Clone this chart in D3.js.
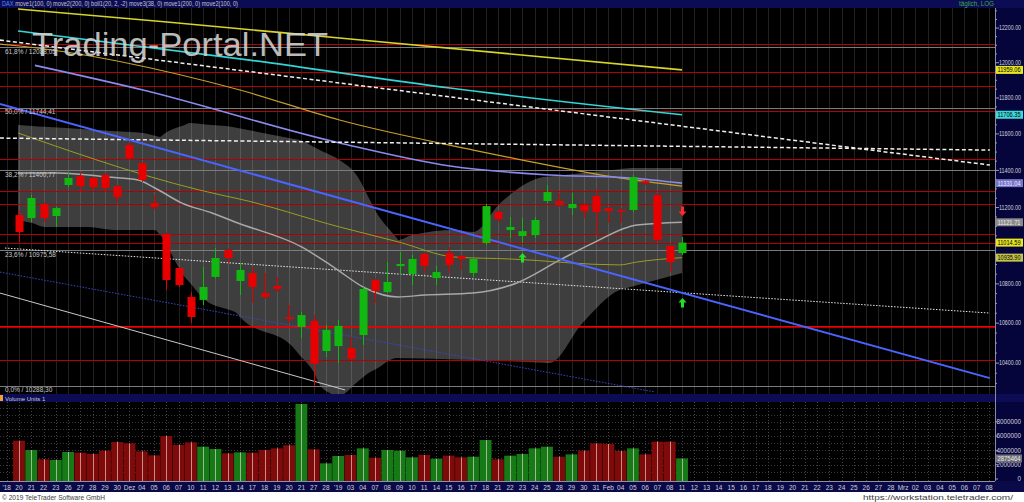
<!DOCTYPE html>
<html><head><meta charset="utf-8">
<script src="https://cdn.jsdelivr.net/npm/d3@7"></script>
<style>html,body{margin:0;padding:0;background:#fff;overflow:hidden}svg{display:block}</style>
</head><body>
<svg id="c" width="1024" height="502"></svg>
<script>
// ---------- DATA ----------
const dateLabels = ["'18","20","21","22","23","26","27","28","29","30","Dez","04","05","06","07","10","11","12","13","14","17","18","19","20","21","27","28","'19","03","04","07","08","09","10","11","14","15","16","17","18","21","22","23","24","25","28","29","30","31","Feb","04","05","06","07","08","11","12","13","14","15","16","17","18","19","20","21","22","23","24","25","26","27","28","Mrz","02","03","04","05","06","07","08"];
const firstCandleSlot = 1;
const opens  = [11160,11144,11219,11155,11321,11369,11359,11375,11315,11539,11440,11224,11060,10882,10733,10718,10836,10976,10815,10856,10753,10789,10631,10581,10611,10460,10485,10475,10540,10820,10758,10892,10851,10955,10830,10960,10944,10856,11012,11176,11081,11049,11054,11235,11235,11197,11213,11262,11197,11187,11187,11342,11267,10997,10960];
const highs  = [11187,11267,11229,11203,11386,11391,11364,11386,11321,11555,11445,11267,11070,10887,10758,10887,10986,10986,10908,10887,10856,10836,10692,10657,10641,10591,10616,10530,10784,10830,10913,10965,10950,10965,10892,10991,10950,10934,11219,11187,11149,11144,11149,11321,11278,11278,11224,11299,11203,11197,11375,11348,11278,11002,11044];
const lows   = [11018,11123,11123,11097,11310,11283,11294,11283,11224,11456,11337,11187,10769,10784,10601,10692,10830,10908,10743,10702,10723,10758,10601,10525,10288,10431,10401,10416,10490,10702,10753,10846,10794,10856,10794,10856,10872,10836,11002,11123,11039,11012,11039,11224,11203,11160,11144,11054,11118,11118,11176,11321,11018,10861,10950];
const closes = [11070,11251,11144,11197,11359,11315,11310,11305,11256,11467,11348,11203,10820,10794,10631,10784,10934,10934,10872,10784,10733,10774,10621,10641,10396,10566,10586,10421,10774,10764,10810,10903,10929,10892,10861,10898,10929,10929,11208,11139,11097,11075,11134,11283,11213,11219,11181,11176,11181,11181,11364,11331,11028,10913,11014.59];
const volumesM = [5.36,4.06,2.75,2.66,3.78,3.68,3.50,3.96,5.17,4.99,3.87,3.31,6.01,4.76,5.13,4.52,4.20,3.59,3.73,3.68,4.06,4.29,4.71,10.49,4.15,2.19,3.22,3.36,4.29,2.98,4.06,3.96,3.03,3.36,2.84,3.26,3.03,3.12,5.45,2.75,3.26,3.50,4.29,4.52,3.12,3.45,3.96,4.99,4.90,3.92,4.29,3.45,5.22,5.22,2.875464];

// indicator curves: [slot, price]
const maYellow   = [[0.92,12311],[13.05,12235],[27.1,12142],[55,11959.06]];
const maCyan     = [[0.92,12183],[19.8,12015],[36.1,11856],[55,11706.35]];
const maLavender = [[2.3,11985],[11.1,11845],[27.1,11550],[36.1,11424],[44.2,11375],[50.8,11359],[55,11331.04]];
const maGold     = [[-0.55,12107],[1.08,12096],[19,11845],[27.1,11677],[38,11511],[42,11456],[49.9,11359],[55,11315]];
const maOlive    = [[0.92,11605],[17.8,11262],[18.6,11251],[27.1,11097],[31.9,11018],[36.5,10939],[41,10929],[49.9,10898],[51.3,10913],[55,10935.90]];
const bollMid    = [[0.92,11386],[4.2,11386],[8.25,11364],[10.7,11348],[12.07,11305],[14.27,11224],[16.72,11171],[18.6,11123],[24.05,10991],[26.73,10882],[29.18,10779],[31.86,10733],[34.06,10743],[37.97,10753],[41.55,10805],[45.06,10924],[47.74,11012],[51.33,11107],[55,11121.71]];
const bollUpper  = [[0.92,11649],[11.1,11605],[12.5,11583],[13.05,11610],[14.9,11660],[18.4,11638],[23.9,11566],[27.1,11456],[28.6,11364],[30,11187],[31.9,11028],[33,11054],[36.5,11081],[38,11070],[40.2,11224],[43.7,11364],[46.9,11386],[50.8,11413],[55,11413]];
const bollLower  = [[0.92,11134],[2.06,11118],[3.1,11097],[6.6,11097],[8.8,11081],[12.07,11081],[12.64,11044],[14.5,10836],[16.15,10718],[18.6,10657],[19.24,10616],[23.3,10480],[24.9,10366],[25.7,10277],[27.1,10240],[29.6,10356],[31.8,10426],[38,10416],[44.2,10401],[46.9,10601],[49.9,10769],[55,10856]];

// trend lines: [slot, price] endpoints
const trendBlue      = [[-0.55,11766],[80.07,10326]];
const trendDashSteep = [[-0.55,12130],[80.07,11429]];
const trendDashFlat  = [[-0.55,11577],[80.07,11511]];
const trendDotted    = [[-0.14,10986],[80.07,10651]];
const trendBlueDot   = [[-0.55,10861],[52.8,10258]];
const trendWhite     = [[-0.55,10753],[27.55,10268]];

const redLevels   = [12107,11947,11868,11727,11462,11402,11288,11219,11060,11012,10416];
const strongLevel = [10581];
const fibValues   = [12088.05,11744.41,11400.77,10975.58,10288.30];
const fibLabels   = ["61,8% / 12088,05","50,0% / 11744,41","38,2% / 11400,77","23,6% / 10975,58","0,0% / 10288,30"];

const priceTicks  = [12200,12000,11800,11600,11400,11200,10800,10600,10400];
const volTicksM   = [0,2,4,6,8];
const valueTags   = [11959.06,11706.35,11331.04,11121.71,11014.59,10935.90];
const valueTagBg  = ["#e6e622","#3fd8d8","#7676c8","#8a8a8a","#e6e622","#c4c44a"];
const valueTagFg  = ["#000","#000","#e8e8ff","#eee","#000","#000"];
const arrowSlots  = [55,42,55];
const arrowPrices = [11181,10934,10702];
const arrowDirs   = ["down","up","up"];

// ---------- SCALES ----------
const svg = d3.select("#c");
const PR = 995;                      // plot right edge
const x  = d3.scaleLinear().domain([0,80]).range([6.7,989]);
const y  = d3.scaleLog().domain([10253,12317]).range([393,8]);
const yv = d3.scaleLinear().domain([0,10.77]).range([479,402]);
const step = x(1)-x(0);
const font = "'Liberation Sans', Arial, sans-serif";

// ---------- BACKGROUNDS ----------
svg.append("rect").attr("width",1024).attr("height",502).attr("fill","#fff");
svg.append("rect").attr("x",0).attr("y",0).attr("width",1024).attr("height",8).attr("fill","#0c0c55");
svg.append("rect").attr("x",0).attr("y",8).attr("width",PR).attr("height",386).attr("fill","#000");
svg.append("rect").attr("x",PR).attr("y",8).attr("width",1024-PR).attr("height",386).attr("fill","#05053c");
svg.append("rect").attr("x",0).attr("y",394).attr("width",1024).attr("height",8).attr("fill","#0c0c55");
svg.append("rect").attr("x",0).attr("y",402).attr("width",PR).attr("height",79).attr("fill","#000");
svg.append("rect").attr("x",PR).attr("y",402).attr("width",1024-PR).attr("height",79).attr("fill","#05053c");
svg.append("rect").attr("x",0).attr("y",481).attr("width",1024).attr("height",11).attr("fill","#0a0a48");
svg.append("line").attr("x1",0).attr("x2",PR).attr("y1",481.5).attr("y2",481.5).attr("stroke","#9090a8").attr("stroke-width",1);
svg.append("line").attr("x1",PR+0.5).attr("x2",PR+0.5).attr("y1",8).attr("y2",481).attr("stroke","#8a8aa8").attr("stroke-width",1);

svg.append("clipPath").attr("id","mainClip").append("rect").attr("x",0).attr("y",8).attr("width",PR).attr("height",386);
const main = svg.append("g").attr("clip-path","url(#mainClip)");

// Bollinger band fill
const bandArea = d3.area().x(d=>x(d[0])).y0(d=>y(d[2])).y1(d=>y(d[1])).curve(d3.curveMonotoneX);
const bandSlots = Array.from(new Set([...bollUpper.map(d=>d[0]),...bollLower.map(d=>d[0])])).sort((a,b)=>a-b);
function interp(arr,s){ for(let i=0;i<arr.length-1;i++){ if(s>=arr[i][0]&&s<=arr[i+1][0]){ const t=(s-arr[i][0])/(arr[i+1][0]-arr[i][0]); return Math.exp(Math.log(arr[i][1])*(1-t)+Math.log(arr[i+1][1])*t);} } return arr[arr.length-1][1]; }
const bandData = bandSlots.map(s=>[s,interp(bollUpper,s),interp(bollLower,s)]);
main.append("path").attr("d",bandArea(bandData)).attr("fill","#3e3e3e");

// vertical grid
main.selectAll("line.vg").data(d3.range(0,81)).enter().append("line")
  .attr("x1",d=>Math.round(x(d))+0.5).attr("x2",d=>Math.round(x(d))+0.5).attr("y1",8).attr("y2",394)
  .attr("stroke","rgba(255,255,255,0.13)").attr("stroke-width",1);

// horizontal levels
main.selectAll("line.rl").data(redLevels).enter().append("line")
  .attr("x1",0).attr("x2",PR).attr("y1",d=>Math.round(y(d))+0.5).attr("y2",d=>Math.round(y(d))+0.5)
  .attr("stroke","#b40000").attr("stroke-width",1);
main.selectAll("line.sl").data(strongLevel).enter().append("line")
  .attr("x1",0).attr("x2",PR).attr("y1",d=>y(d)).attr("y2",d=>y(d))
  .attr("stroke","#ee0000").attr("stroke-width",1.6);
main.selectAll("line.fl").data(fibValues).enter().append("line")
  .attr("x1",0).attr("x2",PR).attr("y1",d=>Math.round(y(d))+0.5).attr("y2",d=>Math.round(y(d))+0.5)
  .attr("stroke","#7c7c7c").attr("stroke-width",1);

// curves
const curve = d3.line().x(d=>x(d[0])).y(d=>y(d[1])).curve(d3.curveMonotoneX);
const straight = d3.line().x(d=>x(d[0])).y(d=>y(d[1]));
function drawLine(data,color,w,dash,gen){ const p=main.append("path").attr("d",(gen||curve)(data)).attr("fill","none").attr("stroke",color).attr("stroke-width",w); if(dash)p.attr("stroke-dasharray",dash); return p;}
drawLine(trendWhite,"#c8c8c8",1,null,straight);
drawLine(trendBlueDot,"#3848c8",1,"1.5,1.5",straight);
drawLine(trendDotted,"#e8e8e8",1,"1.5,1.5",straight);
drawLine(bollMid,"#a8a8a8",1.5);
drawLine(maOlive,"#9c9c22",1);
drawLine(maGold,"#c8a028",1.2);
drawLine(maLavender,"#8a8af0",1.6);
drawLine(maCyan,"#33d6d6",1.6);
drawLine(maYellow,"#d6d62a",1.6);
drawLine(trendDashFlat,"#f0f0f0",1.5,"4,2.5",straight);
drawLine(trendDashSteep,"#f0f0f0",1.5,"4,2.5",straight);
drawLine(trendBlue,"#4a64ff",2,null,straight);

// candles
const candles = opens.map((o,i)=>({s:i+firstCandleSlot,o,h:highs[i],l:lows[i],c:closes[i],v:volumesM[i]}));
const cg = main.append("g");
cg.selectAll("line.wick").data(candles).enter().append("line")
  .attr("x1",d=>Math.round(x(d.s))+0.5).attr("x2",d=>Math.round(x(d.s))+0.5)
  .attr("y1",d=>y(d.h)).attr("y2",d=>y(d.l))
  .attr("stroke",d=>d.c>=d.o?"#12b812":"#e80000").attr("stroke-width",1);
cg.selectAll("rect.body").data(candles).enter().append("rect")
  .attr("x",d=>Math.round(x(d.s))-3.5).attr("width",8)
  .attr("y",d=>y(Math.max(d.o,d.c)))
  .attr("height",d=>Math.max(1.5,y(Math.min(d.o,d.c))-y(Math.max(d.o,d.c))))
  .attr("fill",d=>d.c>=d.o?"#12b812":"#e80000");

// arrows
const arrows = arrowSlots.map((s,i)=>({s,p:arrowPrices[i],d:arrowDirs[i]}));
main.selectAll("path.arr").data(arrows).enter().append("path")
  .attr("transform",d=>`translate(${Math.round(x(d.s))+0.5},${y(d.p)})${d.d==="down"?" rotate(180)":""}`)
  .attr("d","M0,-5 L4,-0.5 L1.5,-0.5 L1.5,4.5 L-1.5,4.5 L-1.5,-0.5 L-4,-0.5 Z")
  .attr("fill",d=>d.d==="down"?"#ff2a2a":"#22e022");

// fib labels
svg.selectAll("text.fib").data(fibValues).enter().append("text")
  .attr("x",5).attr("y",d=>y(d)+6.5).text((d,i)=>fibLabels[i])
  .attr("font-family",font).attr("font-size",6.5).attr("fill","#c8c8c8");

// watermark
svg.append("text").attr("x",32).attr("y",56).text("Trading-Portal.NET")
  .attr("font-family",font).attr("font-size",34).attr("fill","#d4d4d4").attr("opacity",0.88)
  .attr("textLength",296).attr("lengthAdjust","spacingAndGlyphs");

// header
const hdr = svg.append("text").attr("x",2).attr("y",6).attr("font-family",font).attr("font-size",6.3).attr("fill","#c4c4c4")
  .attr("textLength",236).attr("lengthAdjust","spacingAndGlyphs");
hdr.append("tspan").attr("fill","#4f8cff").text("DAX ");
hdr.append("tspan").text("move1(100, 0) move2(200, 0) boll1(20, 2, -2) move3(38, 0) move1(200, 0) move2(100, 0)");
svg.append("text").attr("x",994).attr("y",6).attr("text-anchor","end").text("täglich, LOG")
  .attr("font-family",font).attr("font-size",6.3).attr("fill","#3ea83e");

// price axis
const minor = d3.range(10300,12301,50);
svg.selectAll("line.mt").data(minor).enter().append("line")
  .attr("x1",PR).attr("x2",d=>d%200===0?PR+4:PR+2).attr("y1",d=>y(d)).attr("y2",d=>y(d))
  .attr("stroke","#9a9ab8").attr("stroke-width",1);
svg.selectAll("text.pt").data(priceTicks).enter().append("text")
  .attr("x",999).attr("y",d=>y(d)+2.3).text(d=>d3.format(".2f")(d))
  .attr("font-family",font).attr("font-size",6.3).attr("fill","#d4d4dc")
  .attr("textLength",22).attr("lengthAdjust","spacingAndGlyphs");
const tags = svg.selectAll("g.tag").data(valueTags).enter().append("g").attr("transform",d=>`translate(996,${y(d)})`);
tags.append("rect").attr("x",0).attr("y",-4).attr("width",27).attr("height",8).attr("fill",(d,i)=>valueTagBg[i]);
tags.append("text").attr("x",1.5).attr("y",2.4).text(d=>d3.format(".2f")(d))
  .attr("font-family",font).attr("font-size",6.3).attr("fill",(d,i)=>valueTagFg[i])
  .attr("textLength",23).attr("lengthAdjust","spacingAndGlyphs");

// volume header
svg.append("rect").attr("x",0).attr("y",395).attr("width",3).attr("height",6).attr("fill","#f0a030");
svg.append("text").attr("x",5).attr("y",400.5).text("Volume Units 1").attr("font-family",font).attr("font-size",6).attr("fill","#c8c8c8");

// volume panel
svg.append("clipPath").attr("id","volClip").append("rect").attr("x",0).attr("y",402).attr("width",PR).attr("height",79);
const vol = svg.append("g").attr("clip-path","url(#volClip)");
vol.selectAll("line.vh").data(d3.range(1,11)).enter().append("line")
  .attr("x1",0).attr("x2",PR).attr("y1",d=>Math.round(yv(d))+0.5).attr("y2",d=>Math.round(yv(d))+0.5)
  .attr("stroke","#3a3a3a").attr("stroke-dasharray","1,2");
vol.selectAll("line.vv").data(d3.range(0,81)).enter().append("line")
  .attr("x1",d=>Math.round(x(d))+0.5).attr("x2",d=>Math.round(x(d))+0.5).attr("y1",402).attr("y2",481)
  .attr("stroke","#444").attr("stroke-dasharray","1,2");
vol.selectAll("rect.vb").data(candles).enter().append("rect")
  .attr("x",d=>x(d.s)-step/2+0.2).attr("width",step-0.4)
  .attr("y",d=>yv(d.v)).attr("height",d=>yv(0)-yv(d.v)+2)
  .attr("fill",d=>d.c>=d.o?"#167a16":"#7e0a0a");
vol.selectAll("line.vc").data(candles).enter().append("line")
  .attr("x1",d=>Math.round(x(d.s))+0.5).attr("x2",d=>Math.round(x(d.s))+0.5)
  .attr("y1",d=>yv(d.v)).attr("y2",481)
  .attr("stroke","rgba(255,225,225,0.6)").attr("stroke-width",1);
svg.selectAll("text.vt").data(volTicksM).enter().append("text")
  .attr("x",1021).attr("y",d=>yv(d)+2.3).attr("text-anchor","end").text(d=>String(d*1000000))
  .attr("font-family",font).attr("font-size",6.3).attr("fill","#d4d4dc");
svg.selectAll("line.vtk").data(volTicksM).enter().append("line")
  .attr("x1",PR).attr("x2",PR+3).attr("y1",d=>yv(d)).attr("y2",d=>yv(d)).attr("stroke","#9a9ab8");
const lastVol = volumesM[volumesM.length-1];
svg.append("rect").attr("x",996).attr("y",yv(lastVol)-4).attr("width",26).attr("height",8).attr("fill","#6e6e78");
svg.append("text").attr("x",997.5).attr("y",yv(lastVol)+2.3).text(String(Math.round(lastVol*1000000)))
  .attr("font-family",font).attr("font-size",6.3).attr("fill","#e8e8e8")
  .attr("textLength",23).attr("lengthAdjust","spacingAndGlyphs");

// date axis
svg.selectAll("text.dt").data(dateLabels).enter().append("text")
  .attr("x",(d,i)=>x(i)).attr("y",489.5).attr("text-anchor","middle").text(d=>d)
  .attr("font-family",font).attr("font-size",6.5).attr("fill","#d0d0d8");

// footer
svg.append("text").attr("x",2).attr("y",499.5).text("© 2019 TeleTrader Software GmbH")
  .attr("font-family",font).attr("font-size",6.8).attr("fill","#404040")
  .attr("textLength",103).attr("lengthAdjust","spacingAndGlyphs");
svg.append("text").attr("x",863).attr("y",499.5).text("https://workstation.teletrader.com/")
  .attr("font-family",font).attr("font-size",7.2).attr("fill","#404040")
  .attr("textLength",150).attr("lengthAdjust","spacingAndGlyphs");
</script>
</body></html>
